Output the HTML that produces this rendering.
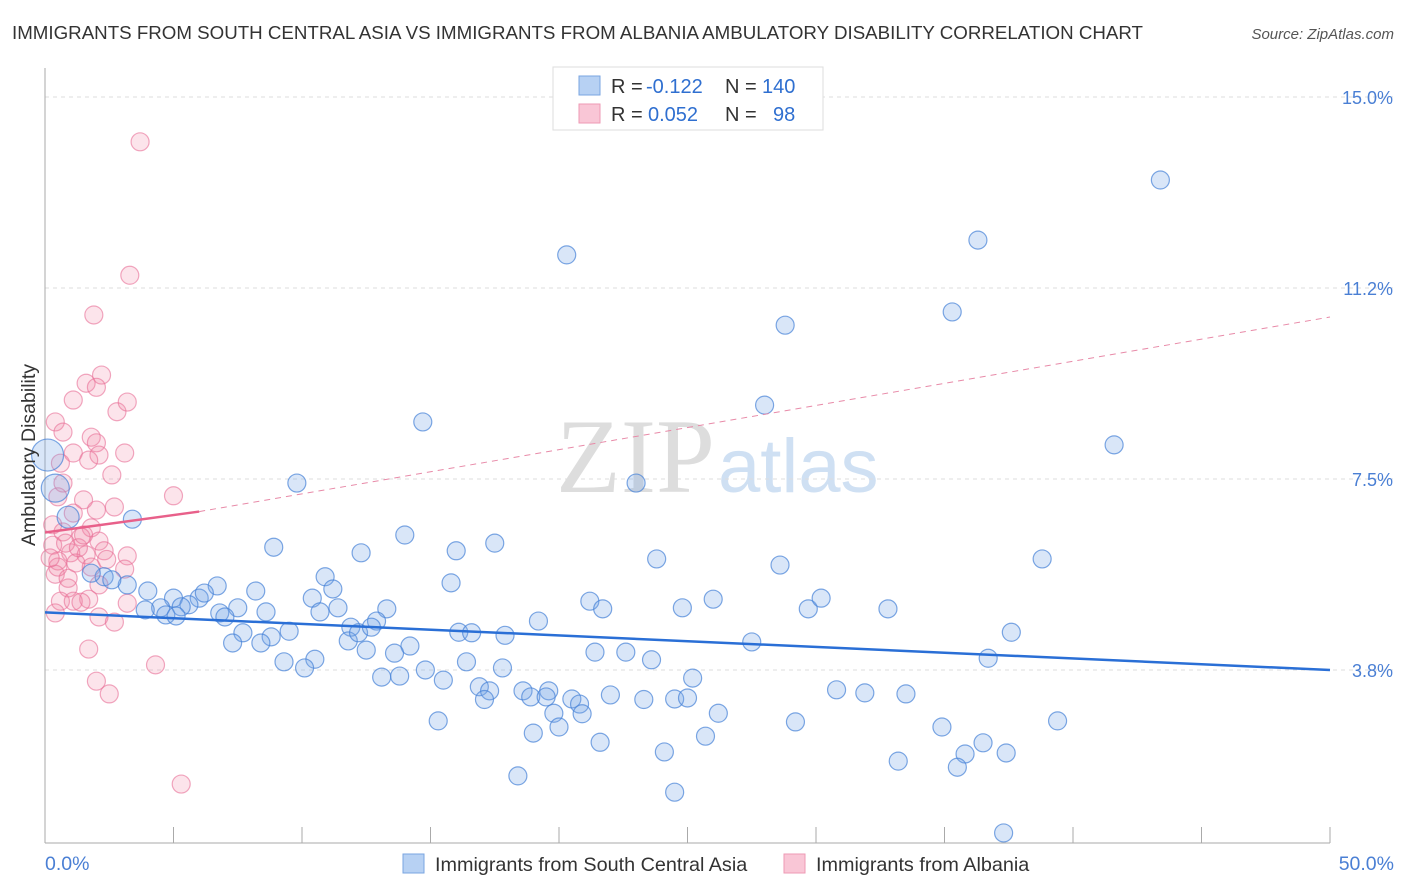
<!DOCTYPE html>
<html><head><meta charset="utf-8"><style>
body{margin:0;background:#fff;font-family:"Liberation Sans",sans-serif}
svg{display:block}
</style></head><body>
<svg width="1406" height="892" viewBox="0 0 1406 892">
<text x="12" y="39" font-size="18" textLength="1131" lengthAdjust="spacingAndGlyphs" fill="#333">IMMIGRANTS FROM SOUTH CENTRAL ASIA VS IMMIGRANTS FROM ALBANIA AMBULATORY DISABILITY CORRELATION CHART</text>
<text x="1394" y="39" font-size="15" fill="#555" font-style="italic" text-anchor="end">Source: ZipAtlas.com</text>
<text x="715" y="492" font-size="106" fill="#ddd" font-family="Liberation Serif" text-anchor="end">ZIP</text>
<text x="718" y="492" font-size="76" fill="#cfe0f3">atlas</text>
<g id="grid"></g>
<g id="axes"></g>
<g id="pts"></g>
<g id="trends"></g>
<text transform="translate(35,455) rotate(-90)" font-size="19.5" fill="#333" text-anchor="middle">Ambulatory Disability</text>
<text x="45" y="870" font-size="19.5" fill="#4a7fd4">0.0%</text>
<text x="1394" y="870" font-size="19.5" fill="#4a7fd4" text-anchor="end">50.0%</text>
<g>
<rect x="553" y="67" width="270" height="63" fill="#fff" stroke="#ddd"/>
<rect x="579" y="76" width="21" height="19" fill="#b7d1f3" stroke="#7aa5e0"/>
<rect x="579" y="104" width="21" height="19" fill="#f9c6d6" stroke="#ee9ab4"/>
<text x="611" y="93" font-size="20" fill="#333">R =</text>
<text x="646" y="93" font-size="20" fill="#2f6fd0">-0.122</text>
<text x="725" y="93" font-size="20" fill="#333">N =</text>
<text x="762" y="93" font-size="20" fill="#2f6fd0">140</text>
<text x="611" y="121" font-size="20" fill="#333">R =</text>
<text x="648" y="121" font-size="20" fill="#2f6fd0">0.052</text>
<text x="725" y="121" font-size="20" fill="#333">N =</text>
<text x="773" y="121" font-size="20" fill="#2f6fd0">98</text>
</g>
<g>
<rect x="403" y="854" width="21" height="19" fill="#b7d1f3" stroke="#7aa5e0"/>
<text x="435" y="871" font-size="19.8" fill="#333">Immigrants from South Central Asia</text>
<rect x="784" y="854" width="21" height="19" fill="#f9c6d6" stroke="#ee9ab4"/>
<text x="816" y="871" font-size="19.8" fill="#333">Immigrants from Albania</text>
</g>
</svg>
<script>
const yTicks=[3.75,7.5,11.25,15];
const yTickLabels=["3.8%","7.5%","11.2%","15.0%"];
const xTicks=[0,5,10,15,20,25,30,35,40,45,50];
const blueX=[43.4,36.3,20.3,35.3,28.8,28.0,14.7,41.6,23.0,9.8,3.4,14.0,17.5,8.9,16.0,12.3,38.8,23.8,28.6,10.9,15.8,11.2,6.7,8.2,4.0,3.2,2.3,1.8,2.6,5.0,6.0,6.2,5.6,5.3,4.5,3.9,4.7,5.1,7.5,6.8,7.0,8.6,10.4,11.4,10.7,13.3,21.2,21.7,24.8,26.0,29.7,30.2,32.8,19.2,12.9,11.9,7.7,8.8,9.5,7.3,8.4,11.8,12.2,12.7,14.2,13.6,12.5,16.1,16.6,17.9,37.6,27.5,21.4,22.6,23.6,36.7,10.5,9.3,10.1,16.4,17.8,14.8,15.5,13.1,13.8,25.2,16.9,17.3,17.1,18.6,18.9,19.6,19.5,20.5,20.8,22.0,23.3,24.5,25.0,30.8,31.9,33.5,19.8,20.9,26.2,15.3,29.2,34.9,39.4,19.0,20.0,25.7,21.6,36.5,35.8,37.4,24.1,33.2,35.5,18.4,24.5,37.3,0.9,0.4,0.1];
const blueY=[13.37,12.19,11.90,10.78,10.52,8.95,8.62,8.17,7.42,7.42,6.71,6.40,6.24,6.16,6.09,6.05,5.93,5.93,5.81,5.58,5.46,5.34,5.40,5.30,5.30,5.42,5.58,5.65,5.52,5.16,5.16,5.26,5.03,4.99,4.97,4.93,4.83,4.81,4.97,4.87,4.79,4.89,5.16,4.97,4.89,4.95,5.10,4.95,4.97,5.14,4.95,5.16,4.95,4.71,4.71,4.59,4.48,4.40,4.51,4.28,4.28,4.32,4.48,4.59,4.22,4.08,4.14,4.49,4.48,4.43,4.49,4.30,4.10,4.10,3.95,3.98,3.96,3.91,3.79,3.91,3.79,3.75,3.55,3.61,3.63,3.59,3.42,3.34,3.17,3.34,3.22,3.34,3.22,3.18,3.08,3.26,3.17,3.18,3.20,3.36,3.30,3.28,2.90,2.89,2.90,2.75,2.73,2.63,2.75,2.51,2.63,2.45,2.33,2.32,2.10,2.12,2.14,1.96,1.84,1.67,1.35,0.55,6.75,7.32,7.97];
const blueR=[];for(let i=0;i<blueX.length;i++)blueR.push(9);blueR[blueR.length-1]=16;blueR[blueR.length-2]=14;blueR[blueR.length-3]=11;
const pinkX=[3.7,3.3,1.9,2.2,1.6,2.0,1.1,2.8,3.2,0.4,1.8,2.0,0.7,3.1,1.1,2.1,0.6,1.7,2.6,0.7,5.0,0.5,1.5,2.7,2.0,1.1,0.3,1.8,0.7,1.4,2.1,0.3,3.2,1.0,1.6,2.3,0.5,1.2,3.1,0.4,1.8,2.1,0.9,0.6,1.7,1.1,1.4,3.2,2.1,2.7,0.4,1.7,4.3,2.0,2.5,5.3,0.5,0.8,0.2,1.3,2.4,0.9,1.5];
const pinkY=[14.12,11.50,10.72,9.54,9.38,9.30,9.05,8.82,9.01,8.62,8.32,8.21,8.42,8.01,8.01,7.97,7.81,7.87,7.58,7.42,7.17,7.15,7.09,6.95,6.89,6.83,6.60,6.54,6.46,6.36,6.28,6.20,5.99,6.05,6.01,6.09,5.89,5.85,5.73,5.63,5.77,5.42,5.36,5.10,5.14,5.10,5.08,5.06,4.79,4.69,4.87,4.16,3.85,3.53,3.28,1.51,5.77,6.24,5.95,6.15,5.92,5.55,6.40];
const blueTrend=[[0,4.88],[50,3.75]];
const pinkTrend=[[0,6.45],[6,6.86],[50,10.68]];
const NS="http://www.w3.org/2000/svg";
const X0=45,X1=1330,Y15=97,PXPER=50.93;
const xs=v=>X0+(X1-X0)*v/50;
const ys=v=>Y15+(15-v)*PXPER;
function mk(tag,attrs,parent){const e=document.createElementNS(NS,tag);for(const k in attrs)e.setAttribute(k,attrs[k]);parent.appendChild(e);return e;}
const grid=document.getElementById('grid');
yTicks.forEach((t,i)=>{
 const l=mk('line',{x1:X0,x2:1394,y1:ys(t),y2:ys(t),stroke:'#ddd','stroke-dasharray':'4,4'},grid);
 
 
 const tx=mk('text',{x:1393,y:ys(t)+7,'font-size':18,fill:'#4a7fd4','text-anchor':'end'},grid);
 tx.textContent=yTickLabels[i];
 
 
});
const ax=document.getElementById('axes');
const yl=mk('line',{x1:X0,x2:X0,y1:68,y2:843,stroke:'#aaa'},ax);


const xl=mk('line',{x1:X0,x2:X1,y1:843,y2:843,stroke:'#aaa'},ax);


xTicks.forEach(t=>{const tk=mk('line',{x1:xs(t),x2:xs(t),y1:827,y2:843,stroke:'#aaa'},ax);
 
 });
const pts=document.getElementById('pts');
pinkX.forEach((v,i)=>{const c=mk('circle',{cx:xs(v),cy:ys(pinkY[i]),r:9,fill:'rgba(242,130,165,0.22)',stroke:'rgba(232,110,150,0.6)','stroke-width':1.2},pts);
 
 });
blueX.forEach((v,i)=>{const c=mk('circle',{cx:xs(v),cy:ys(blueY[i]),r:blueR[i],fill:'rgba(120,165,230,0.28)',stroke:'rgba(70,130,215,0.7)','stroke-width':1.2},pts);
 
 });
const tr=document.getElementById('trends');
const bt=mk('line',{x1:xs(blueTrend[0][0]),y1:ys(blueTrend[0][1]),x2:xs(blueTrend[1][0]),y2:ys(blueTrend[1][1]),stroke:'#2a6fd6','stroke-width':2.5},tr);


const pt=mk('line',{x1:xs(pinkTrend[0][0]),y1:ys(pinkTrend[0][1]),x2:xs(pinkTrend[1][0]),y2:ys(pinkTrend[1][1]),stroke:'#e8608a','stroke-width':2.5},tr);


const pd=mk('line',{x1:xs(pinkTrend[1][0]),y1:ys(pinkTrend[1][1]),x2:xs(pinkTrend[2][0]),y2:ys(pinkTrend[2][1]),stroke:'#e88aa8','stroke-width':1,'stroke-dasharray':'6,5'},tr);


</script>
</body></html>
